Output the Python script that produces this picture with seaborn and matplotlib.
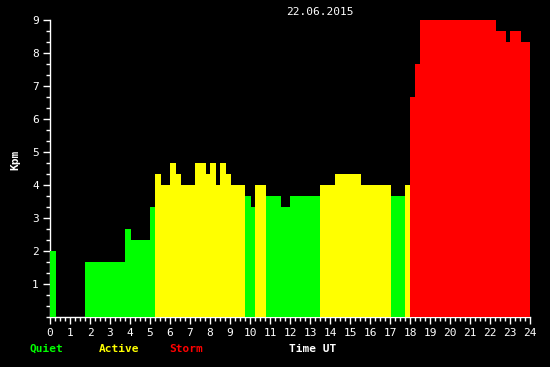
import matplotlib
matplotlib.use("Agg")
import matplotlib.pyplot as plt
import seaborn as sns
import pandas as pd
import numpy as np

# ---- data (hours UT, Kp values) ----
edges = [0, 0.3, 1.75, 3.75, 4.05, 5.0, 5.25, 5.55, 6.0, 6.3, 6.55, 7.25, 7.8, 8.0,
         8.3, 8.5, 8.8, 9.05, 9.75, 10.05, 10.25, 10.8, 11.55, 12.0, 13.5, 14.25,
         15.55, 17.05, 17.75, 18.0, 18.25, 18.5, 22.3, 22.8, 23.0, 23.55, 24.0]
kp = [2.0, 0, 1.67, 2.67, 2.33, 3.33, 4.33, 4.0, 4.67, 4.33, 4.0, 4.67, 4.33, 4.67,
      4.0, 4.67, 4.33, 4.0, 3.67, 3.33, 4.0, 3.67, 3.33, 3.67, 4.0, 4.33, 4.0, 3.67,
      4.0, 6.67, 7.67, 9.0, 8.67, 8.33, 8.67, 8.33]
x_ticks = list(range(0, 25))
y_ticks = list(range(1, 10))
date_title = "22.06.2015"
legend_labels = ["Quiet", "Active", "Storm"]

palette = {"Quiet": "#00ff00", "Active": "#ffff00", "Storm": "#ff0000"}

def level(v):
    if v < 4:
        return "Quiet"
    if v < 5:
        return "Active"
    return "Storm"

mids = [(a + b) / 2 for a, b in zip(edges[:-1], edges[1:])]
df = pd.DataFrame({"t": mids, "kp": kp, "level": [level(v) for v in kp]})

sns.set_style("dark")
plt.rcParams["font.family"] = ["DejaVu Sans Mono"]

fig = plt.figure(figsize=(5.5, 3.67), dpi=100, facecolor="black")
ax = fig.add_axes([50 / 550, 50 / 367, 480 / 550, 297 / 367])
ax.set_facecolor("black")

sns.histplot(data=df, x="t", weights="kp", bins=edges, hue="level",
             hue_order=legend_labels, palette=palette, multiple="layer",
             element="bars", fill=True, alpha=1, linewidth=0, legend=False,
             ax=ax, zorder=3)

ax.set_xlim(0, 24)
ax.set_ylim(0, 9)
ax.grid(False)
for s in ["top", "right"]:
    ax.spines[s].set_visible(False)
for s in ["left", "bottom"]:
    ax.spines[s].set_visible(True)
    ax.spines[s].set_color("white")
    ax.spines[s].set_linewidth(1)

ax.set_xticks(x_ticks)
ax.set_xticklabels([str(v) for v in x_ticks])
ax.set_xticks(np.arange(0, 24.01, 0.25), minor=True)
ax.set_yticks(y_ticks)
ax.set_yticklabels([str(v) for v in y_ticks])
ax.set_yticks(np.arange(0, 9.01, 1 / 3), minor=True)
ax.tick_params(axis="both", which="major", colors="white", labelsize=8,
               length=5, width=1, direction="out", pad=3, labelcolor="white",
               bottom=True, left=True)
ax.tick_params(axis="both", which="minor", colors="white", length=3, width=1,
               direction="out", bottom=True, left=True)

ax.set_xlabel("")
ax.set_ylabel("")
fig.text(15 / 550, 1 - 160 / 367, "Kpm", color="white", fontsize=8,
         fontweight="bold", rotation=90, ha="center", va="center")
fig.text(320 / 550, 1 - 12 / 367, date_title, color="white", fontsize=8,
         ha="center", va="center")

ly = 1 - 349 / 367
fig.text(29 / 550, ly, legend_labels[0], color=palette["Quiet"], fontsize=8,
         fontweight="bold", ha="left", va="center")
fig.text(99 / 550, ly, legend_labels[1], color=palette["Active"], fontsize=8,
         fontweight="bold", ha="left", va="center")
fig.text(169 / 550, ly, legend_labels[2], color=palette["Storm"], fontsize=8,
         fontweight="bold", ha="left", va="center")
fig.text(289 / 550, ly, "Time UT", color="white", fontsize=8,
         fontweight="bold", ha="left", va="center")

fig.savefig("out.png", dpi=100, facecolor="black")
